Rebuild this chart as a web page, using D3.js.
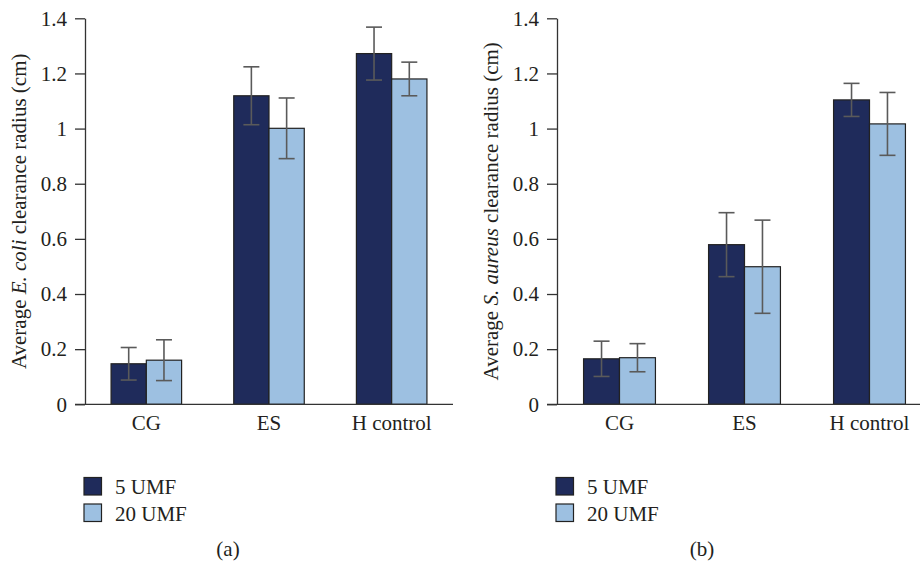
<!DOCTYPE html>
<html>
<head>
<meta charset="utf-8">
<script src="https://cdnjs.cloudflare.com/ajax/libs/d3/7.8.5/d3.min.js"></script>
<style>
  body { margin: 0; background: #fff; }
  svg { display: block; font-family: "Liberation Serif", "DejaVu Serif", serif; }
</style>
</head>
<body>
<div id="chart"></div>
<script>
// 数据
const categories = ["CG", "ES", "H control"];
const seriesNames = ["5 UMF", "20 UMF"];
const yTickValues = [0, 0.2, 0.4, 0.6, 0.8, 1, 1.2, 1.4];

// (a) E. coli
const ecoli5Mean = [0.147, 1.119, 1.272];
const ecoli5Err = [0.059, 0.105, 0.096];
const ecoli20Mean = [0.160, 1.001, 1.180];
const ecoli20Err = [0.074, 0.110, 0.061];

// (b) S. aureus
const aureus5Mean = [0.165, 0.579, 1.104];
const aureus5Err = [0.064, 0.116, 0.060];
const aureus20Mean = [0.169, 0.499, 1.017];
const aureus20Err = [0.051, 0.169, 0.114];

const width = 920, height = 565;
const colors = ["#1f2b5b", "#9dc0e1"];

const svg = d3.select("#chart").append("svg")
  .attr("width", width)
  .attr("height", height);

function drawPanel(opt) {
  const g = svg.append("g");

  const y = d3.scaleLinear().domain([0, 1.4]).range([404.3, 18.3]);

  const x0 = d3.scaleBand()
    .domain(categories)
    .range([opt.left, opt.right])
    .paddingInner(0.425)
    .paddingOuter(0.2125);

  const x1 = d3.scaleBand()
    .domain(seriesNames)
    .range([0, x0.bandwidth()]);

  const rows = categories.map((c, i) => ({
    cat: c,
    vals: [
      { key: seriesNames[0], mean: opt.mean5[i], err: opt.err5[i] },
      { key: seriesNames[1], mean: opt.mean20[i], err: opt.err20[i] }
    ]
  }));

  // 柱子
  const grp = g.selectAll(".grp").data(rows).enter().append("g")
    .attr("transform", d => `translate(${x0(d.cat)},0)`);

  grp.selectAll("rect").data(d => d.vals).enter().append("rect")
    .attr("x", d => x1(d.key))
    .attr("y", d => y(d.mean))
    .attr("width", x1.bandwidth())
    .attr("height", d => y(0) - y(d.mean))
    .attr("fill", (d, i) => colors[i])
    .attr("stroke", "#222")
    .attr("stroke-width", 1.2);

  // 误差线
  const eb = grp.selectAll(".err").data(d => d.vals).enter().append("g")
    .attr("stroke", "#5a5a5a")
    .attr("stroke-width", 1.6)
    .attr("transform", d => `translate(${x1(d.key) + x1.bandwidth() / 2},0)`);
  eb.append("line")
    .attr("y1", d => y(d.mean + d.err))
    .attr("y2", d => y(d.mean - d.err));
  eb.append("line")
    .attr("x1", -8).attr("x2", 8)
    .attr("y1", d => y(d.mean + d.err))
    .attr("y2", d => y(d.mean + d.err));
  eb.append("line")
    .attr("x1", -8).attr("x2", 8)
    .attr("y1", d => y(d.mean - d.err))
    .attr("y2", d => y(d.mean - d.err));

  // Y轴
  const yAxis = g.append("g")
    .attr("transform", `translate(${opt.left},0)`)
    .call(d3.axisLeft(y)
      .tickValues(yTickValues)
      .tickFormat(d3.format(".1~f"))
      .tickSize(10)
      .tickSizeOuter(0)
      .tickPadding(8));
  yAxis.selectAll("path, line").attr("stroke", "#333").attr("stroke-width", 1.3);
  yAxis.selectAll("text")
    .attr("fill", "#231f20")
    .style("font-size", "21px")
    .style("font-family", "Liberation Serif, serif");

  // X轴
  g.append("line")
    .attr("x1", opt.left - 10).attr("x2", opt.right)
    .attr("y1", y(0)).attr("y2", y(0))
    .attr("stroke", "#333").attr("stroke-width", 1.3);

  const xAxis = g.append("g")
    .attr("transform", `translate(0,${y(0)})`)
    .call(d3.axisBottom(x0).tickSize(0).tickPadding(11));
  xAxis.select(".domain").remove();
  xAxis.selectAll("text")
    .attr("fill", "#231f20")
    .style("font-size", "21px")
    .style("font-family", "Liberation Serif, serif");

  // Y轴标题
  const title = g.append("text")
    .attr("transform", `translate(${opt.titleX},${(y(0) + y(1.4)) / 2}) rotate(-90)`)
    .attr("text-anchor", "middle")
    .attr("dy", "0.35em")
    .attr("fill", "#231f20")
    .style("font-size", "21px");
  title.append("tspan").text("Average ");
  title.append("tspan").style("font-style", "italic").text(opt.species);
  title.append("tspan").text(" clearance radius (cm)");

  // 图例
  const legend = g.selectAll(".legend").data(seriesNames).enter().append("g")
    .attr("transform", (d, i) => `translate(${opt.legendX},${477.5 + i * 26.5})`);
  legend.append("rect")
    .attr("width", 17.5).attr("height", 17.5)
    .attr("fill", (d, i) => colors[i])
    .attr("stroke", "#222").attr("stroke-width", 1.2);
  legend.append("text")
    .attr("x", 31).attr("y", 16.5)
    .attr("fill", "#231f20")
    .style("font-size", "21px")
    .text(d => d);

  // 面板标签
  g.append("text")
    .attr("x", opt.labelX).attr("y", 556)
    .attr("text-anchor", "middle")
    .attr("fill", "#231f20")
    .style("font-size", "21px")
    .text(opt.label);
}

drawPanel({
  left: 85, right: 453,
  mean5: ecoli5Mean, err5: ecoli5Err, mean20: ecoli20Mean, err20: ecoli20Err,
  species: "E. coli", titleX: 19, legendX: 84, labelX: 228, label: "(a)"
});

drawPanel({
  left: 557, right: 932,
  mean5: aureus5Mean, err5: aureus5Err, mean20: aureus20Mean, err20: aureus20Err,
  species: "S. aureus", titleX: 491, legendX: 556, labelX: 702, label: "(b)"
});
</script>
</body>
</html>
